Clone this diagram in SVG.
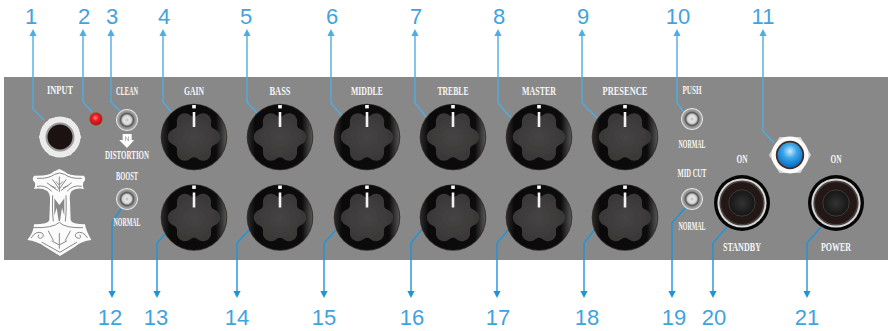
<svg xmlns="http://www.w3.org/2000/svg" xmlns:xlink="http://www.w3.org/1999/xlink" width="888" height="331" viewBox="0 0 888 331">
<style>
.t{font-family:"Liberation Serif",serif;font-weight:700;font-size:12.5px;fill:#f7f7f7;text-anchor:middle}
.n{font-family:"Liberation Sans",Arial,sans-serif;font-size:22px;fill:#3fa3de;text-anchor:middle}
.up{fill:none;stroke:#4dade4;stroke-width:1.4;marker-end:url(#ah)}
.dn{fill:none;stroke:#1b96db;stroke-width:1.4;marker-end:url(#bh)}
</style>
<defs>
<marker id="ah" markerUnits="userSpaceOnUse" viewBox="0 -4 7 8" refX="1" refY="0" markerWidth="7" markerHeight="8" orient="auto"><path d="M0-3.6 7 0 0 3.6Z" fill="#4dade4"/></marker>
<marker id="bh" markerUnits="userSpaceOnUse" viewBox="0 -4 7 8" refX="1" refY="0" markerWidth="7" markerHeight="8" orient="auto"><path d="M0-3.6 7 0 0 3.6Z" fill="#1b96db"/></marker>
<linearGradient id="ks" x1="0" x2="1" y1="0" y2="0"><stop offset="0" stop-color="#2a2a2a"/><stop offset="0.12" stop-color="#0a0a0a"/><stop offset="0.84" stop-color="#0c0c0c"/><stop offset="1" stop-color="#555"/></linearGradient>
<radialGradient id="kt" cx="50%" cy="50%" r="50%"><stop offset="0" stop-color="#464444"/><stop offset="1" stop-color="#3a3737"/></radialGradient>
<radialGradient id="sw"><stop offset="0" stop-color="#b8b8b8"/><stop offset="0.22" stop-color="#e6e6e6"/><stop offset="0.42" stop-color="#cfcfcf"/><stop offset="0.58" stop-color="#555"/><stop offset="0.72" stop-color="#8f8f8f"/><stop offset="0.86" stop-color="#a4a4a4"/><stop offset="0.95" stop-color="#e8e8e8"/><stop offset="1" stop-color="#cfcfcf"/></radialGradient>
<radialGradient id="led" cx="50%" cy="35%" r="62%"><stop offset="0" stop-color="#cdeafa"/><stop offset="0.45" stop-color="#3ba6ea"/><stop offset="1" stop-color="#0b6fc4"/></radialGradient>
<radialGradient id="red" cx="45%" cy="40%" r="60%"><stop offset="0" stop-color="#ff8a8a"/><stop offset="0.4" stop-color="#f01e28"/><stop offset="1" stop-color="#c00a14"/></radialGradient>
<radialGradient id="jc"><stop offset="0" stop-color="#333"/><stop offset="1" stop-color="#151515"/></radialGradient>
<filter id="soft" x="-10%" y="-10%" width="120%" height="120%"><feGaussianBlur stdDeviation="0.6"/></filter>
<g id="knob">
<circle r="33.3" fill="#3a2e2a"/>
<circle r="32.4" fill="url(#ks)"/>
<path filter="url(#soft)" d="M-3.24-21.58Q0-19 3.24-21.58 6.47-24.15 9.98-23.77 13.5-23.38 15.59-20.53 17.68-17.68 17.07-13.59 16.45-9.5 20.3-7.98 24.15-6.47 25.58-3.24 27 0 25.58 3.24 24.15 6.47 20.3 7.98 16.45 9.5 17.07 13.59 17.68 17.68 15.59 20.53 13.5 23.38 9.98 23.77 6.47 24.15 3.24 21.58 0 19-3.24 21.58-6.47 24.15-9.98 23.77-13.5 23.38-15.59 20.53-17.68 17.68-17.07 13.59-16.45 9.5-20.3 7.98-24.15 6.47-25.58 3.24-27 0-25.58-3.24-24.15-6.47-20.3-7.98-16.45-9.5-17.07-13.59-17.68-17.68-15.59-20.53-13.5-23.38-9.98-23.77-6.47-24.15-3.24-21.58Z" fill="url(#kt)"/>
<rect x="-1.8" y="-32" width="3.6" height="3.4" fill="#fff"/>
<rect x="-1.3" y="-25" width="2.6" height="15" fill="#f2f2f2"/>
</g>
<g id="switch"><circle r="11" fill="url(#sw)"/></g>
<g id="bigjack">
<circle r="28" fill="#050505"/>
<circle r="24.6" fill="#d6d6d6"/>
<circle r="22.6" fill="#4a4240"/>
<circle r="21" fill="#231815"/>
<circle r="13.2" fill="url(#jc)" stroke="#3e3a38" stroke-width="1"/>
</g>
</defs>

<rect id="panel" x="4" y="77" width="884" height="183" fill="#888888"/>

<g id="connectors">
<polyline class="up" points="44,120 33,109 33,35"/>
<polyline class="up" points="92,112 83,102 83,35"/>
<polyline class="up" points="120,111 111,102 111,35"/>
<polyline class="up" points="172,113 163,102 163,35"/>
<polyline class="up" points="258,114 247,102 247,35"/>
<polyline class="up" points="342,116 331,103 331,35"/>
<polyline class="up" points="427,118 415,103 415,35"/>
<polyline class="up" points="512,119 498,103 498,35"/>
<polyline class="up" points="598,119 582,103 582,35"/>
<polyline class="up" points="684,112 677,103 677,35"/>
<polyline class="up" points="774,143 763,131 763,35"/>
<polyline class="dn" points="121,209 112,222 112,292"/>
<polyline class="dn" points="167,232 157,243 157,292"/>
<polyline class="dn" points="250,229 237,243 237,292"/>
<polyline class="dn" points="337,229 324,243 324,292"/>
<polyline class="dn" points="423,228 411,243 411,292"/>
<polyline class="dn" points="510,228 497,243 497,292"/>
<polyline class="dn" points="596,228 584,243 584,292"/>
<polyline class="dn" points="686,207 672,223 672,292"/>
<polyline class="dn" points="727,227 713,243 713,292"/>
<polyline class="dn" points="821,227 807,243 807,292"/>
</g>

<g id="numbers">
<text class="n" x="31" y="24">1</text><text class="n" x="84" y="24">2</text><text class="n" x="112" y="24">3</text><text class="n" x="164" y="24">4</text><text class="n" x="246" y="24">5</text><text class="n" x="332" y="24">6</text><text class="n" x="416" y="24">7</text><text class="n" x="499" y="24">8</text><text class="n" x="583" y="24">9</text><text class="n" x="678" y="24">10</text><text class="n" x="763" y="24">11</text>
<text class="n" x="110" y="325">12</text><text class="n" x="156" y="325">13</text><text class="n" x="237" y="325">14</text><text class="n" x="324" y="325">15</text><text class="n" x="412" y="325">16</text><text class="n" x="498" y="325">17</text><text class="n" x="587" y="325">18</text><text class="n" x="674" y="325">19</text><text class="n" x="714" y="325">20</text><text class="n" x="807" y="325">21</text>
</g>

<g id="input-jack">
<polygon points="38,137 49,118 71,118 82,137 71,156 49,156" fill="#d9d9d9" stroke="#777" stroke-width="0.8"/>
<circle cx="60" cy="137" r="20.5" fill="#ebebeb"/>
<circle cx="60" cy="137" r="14.5" fill="#9a9a9a"/>
<circle cx="60" cy="137" r="12.5" fill="#1d1212"/>
<text class="t" x="60" y="94" textLength="26" lengthAdjust="spacingAndGlyphs">INPUT</text>
</g>
<g id="red-led"><circle cx="96" cy="119" r="6.7" fill="#8a5a20"/><circle cx="96" cy="119" r="6" fill="url(#red)"/></g>

<g id="hammer" transform="translate(20 165) scale(.3333)">
<path d="M118 12 135 20Q145 33 192 32 200 45 190 52 186 62 192 72 170 68 155 78 147 88 150 110L152 165Q155 178 195 178 197 195 214 225 185 228 165 245L120 273 75 245Q50 228 22 225 42 200 42 178 85 178 88 165L90 110Q92 88 82 78 65 68 42 72 48 60 44 52 34 45 42 32 90 33 100 20Z" fill="#fbfbfb"/>
<g fill="none" stroke="#888" stroke-width="3" stroke-linecap="round">
<path d="M52 40Q85 42 104 28 118 20 134 28 152 42 184 40M52 64Q75 58 94 78M184 64Q160 58 142 78"/>
<path d="M118 80V36M118 72 98 44M118 72 138 44M112 76 82 54M124 76 154 54M106 68 92 62M130 68 144 62M108 50 118 60 128 50"/>
<path d="M98 92Q96 140 100 168M138 92Q140 140 136 168"/>
<path d="M40 188Q100 190 118 172 136 190 188 188M34 218Q48 196 66 204 76 214 62 220 50 220 56 210M202 218Q188 196 170 204 160 214 174 220 186 220 180 210M85 198 100 226M151 198 136 226M118 205V250M96 228 118 240 140 228M66 232 120 262 170 232"/>
</g>
<path d="M103 100 118 120 133 100V152L126 128 120 168 116 168 110 128 103 152Z" fill="#888"/>
</g>

<g id="clean-switch">
<text class="t" x="127" y="95" textLength="22" lengthAdjust="spacingAndGlyphs">CLEAN</text>
<use href="#switch" x="127" y="120"/>
<path d="M122.7 134H131.7V140H134.2L127 148 119.2 140H122.7Z" fill="#fff"/>
<path d="M125.5 141V136.5L128.5 141V136.5" fill="none" stroke="#999" stroke-width=".7"/>
<text class="t" x="127" y="159" textLength="44" lengthAdjust="spacingAndGlyphs">DISTORTION</text>
</g>
<g id="boost-switch">
<text class="t" x="127" y="180" textLength="22" lengthAdjust="spacingAndGlyphs">BOOST</text>
<use href="#switch" x="127" y="199"/>
<text class="t" x="127" y="226" textLength="27" lengthAdjust="spacingAndGlyphs">NORMAL</text>
</g>

<g id="gain"><text class="t" x="194" y="95" textLength="20" lengthAdjust="spacingAndGlyphs">GAIN</text><use href="#knob" x="194" y="137"/><use href="#knob" x="194" y="217.5"/></g>
<g id="bass"><text class="t" x="280" y="95" textLength="21" lengthAdjust="spacingAndGlyphs">BASS</text><use href="#knob" x="280" y="137"/><use href="#knob" x="280" y="217.5"/></g>
<g id="middle"><text class="t" x="367" y="95" textLength="32" lengthAdjust="spacingAndGlyphs">MIDDLE</text><use href="#knob" x="367" y="137"/><use href="#knob" x="367" y="217.5"/></g>
<g id="treble"><text class="t" x="453" y="95" textLength="31" lengthAdjust="spacingAndGlyphs">TREBLE</text><use href="#knob" x="453" y="137"/><use href="#knob" x="453" y="217.5"/></g>
<g id="master"><text class="t" x="539" y="95" textLength="34" lengthAdjust="spacingAndGlyphs">MASTER</text><use href="#knob" x="539" y="137"/><use href="#knob" x="539" y="217.5"/></g>
<g id="presence"><text class="t" x="625" y="95" textLength="45" lengthAdjust="spacingAndGlyphs">PRESENCE</text><use href="#knob" x="625" y="137"/><use href="#knob" x="625" y="217.5"/></g>

<g id="push-switch">
<text class="t" x="692" y="94" textLength="19" lengthAdjust="spacingAndGlyphs">PUSH</text>
<use href="#switch" x="692" y="119"/>
<text class="t" x="692" y="148" textLength="27" lengthAdjust="spacingAndGlyphs">NORMAL</text>
</g>
<g id="midcut-switch">
<text class="t" x="692" y="177" textLength="29" lengthAdjust="spacingAndGlyphs">MID CUT</text>
<use href="#switch" x="692" y="199"/>
<text class="t" x="692" y="230" textLength="27" lengthAdjust="spacingAndGlyphs">NORMAL</text>
</g>

<g id="standby">
<text class="t" x="742" y="163" textLength="11" lengthAdjust="spacingAndGlyphs">ON</text>
<use href="#bigjack" x="742" y="203"/>
<text class="t" x="742" y="251" textLength="38" lengthAdjust="spacingAndGlyphs">STANDBY</text>
</g>
<g id="power">
<text class="t" x="836" y="163" textLength="11" lengthAdjust="spacingAndGlyphs">ON</text>
<use href="#bigjack" x="836" y="203"/>
<text class="t" x="836" y="251" textLength="30" lengthAdjust="spacingAndGlyphs">POWER</text>
</g>

<g id="blue-led">
<polygon points="769,155 779.5,137 800.5,137 811,155 800.5,173 779.5,173" fill="#d4d4d4"/>
<circle cx="790" cy="155" r="18.5" fill="#fbfbfb"/>
<circle cx="790" cy="155" r="14.2" fill="#4a2a20"/>
<circle cx="790" cy="155" r="12.4" fill="url(#led)"/>
</g>
</svg>
